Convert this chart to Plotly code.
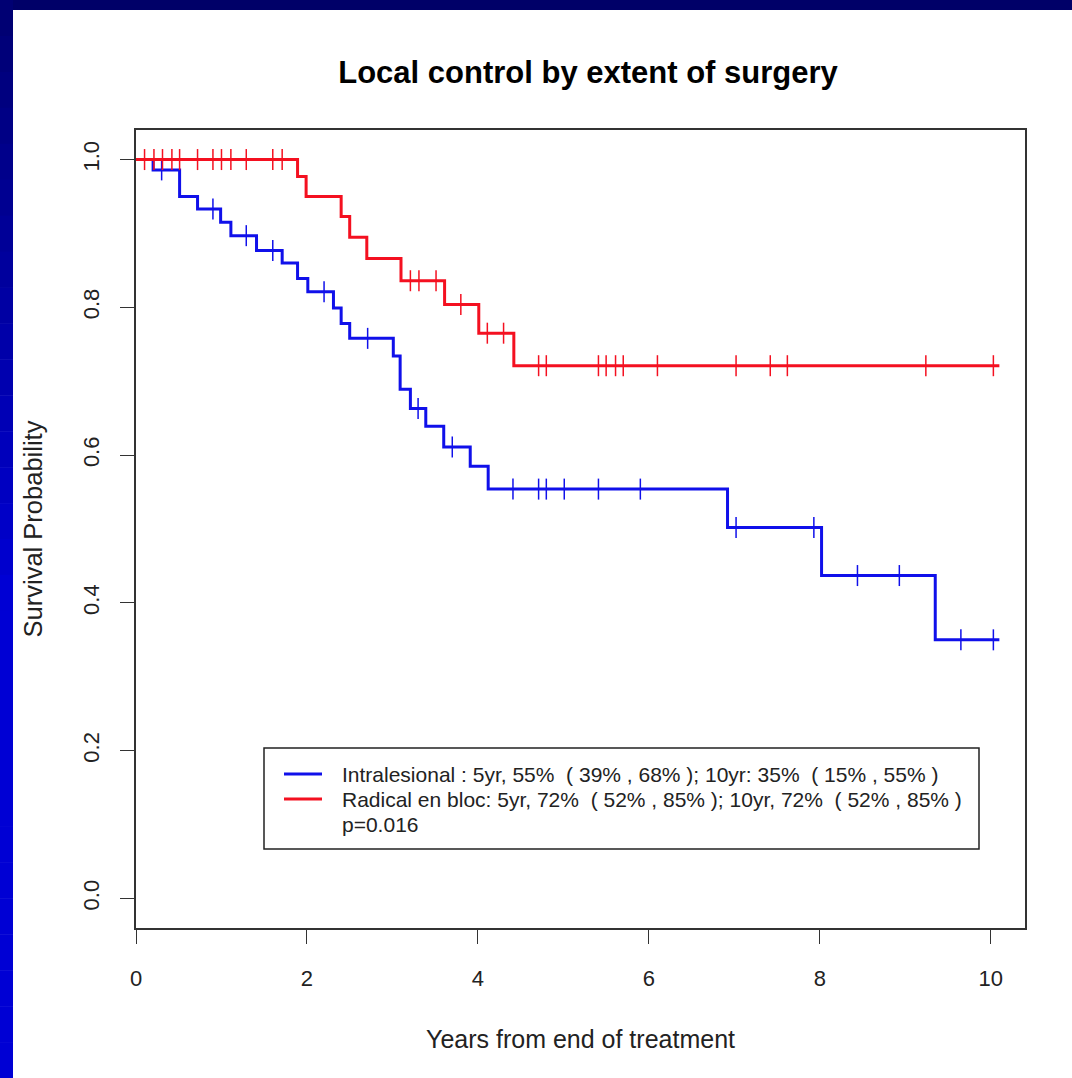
import plotly.graph_objects as go

# ---------------- data ----------------
intra_name = "Intralesional : 5yr, 55%  ( 39% , 68% ); 10yr: 35%  ( 15% , 55% )"
intra_times = [0.20, 0.51, 0.72, 0.99, 1.11, 1.41, 1.71, 1.89, 2.01, 2.31, 2.40, 2.50,
               3.01, 3.09, 3.21, 3.39, 3.60, 3.91, 4.12, 6.92, 8.02, 9.35]
intra_surv = [0.986, 0.950, 0.933, 0.915, 0.897, 0.877, 0.860, 0.839, 0.821, 0.799, 0.778, 0.758,
              0.734, 0.689, 0.663, 0.639, 0.611, 0.585, 0.554, 0.502, 0.437, 0.350]
intra_censor = [0.30, 0.90, 1.29, 1.60, 2.20, 2.71, 3.30, 3.70, 4.41, 4.71, 4.80, 5.01,
                5.41, 5.90, 7.02, 7.93, 8.44, 8.93, 9.65, 10.03]
intra_end = 10.1

radical_name = "Radical en bloc: 5yr, 72%  ( 52% , 85% ); 10yr, 72%  ( 52% , 85% )"
radical_times = [1.89, 1.99, 2.40, 2.50, 2.70, 3.10, 3.61, 4.01, 4.42]
radical_surv = [0.977, 0.950, 0.923, 0.895, 0.866, 0.836, 0.804, 0.765, 0.721]
radical_censor = [0.10, 0.21, 0.31, 0.42, 0.51, 0.72, 0.90, 1.00, 1.11, 1.29, 1.60, 1.71,
                  3.21, 3.31, 3.51, 3.80, 4.11, 4.30, 4.71, 4.80, 5.41, 5.50, 5.61, 5.70,
                  6.10, 7.02, 7.42, 7.62, 9.24, 10.03]
radical_end = 10.1

p_text = "p=0.016"
x_ticks = [0, 2, 4, 6, 8, 10]
y_ticks = [0.0, 0.2, 0.4, 0.6, 0.8, 1.0]
y_ticktext = ["0.0", "0.2", "0.4", "0.6", "0.8", "1.0"]

# ---------------- helpers ----------------
def step_xy(times, surv, end):
    xs = [0.0] + list(times) + [end]
    ys = [1.0] + list(surv) + [surv[-1]]
    return xs, ys

def surv_at(t, times, surv):
    s = 1.0
    for ti, si in zip(times, surv):
        if ti <= t:
            s = si
    return s

W, H = 1072, 1078
ML, MR, MT, MB = 136, 47, 130, 150
PW, PH = W - ML - MR, H - MT - MB

def px(x):
    return (x - ML) / PW

def py(y):
    return (H - MB - y) / PH

FONT = "Liberation Sans, Arial, sans-serif"
BLUE = "#1010ea"
RED = "#f41020"
TXT = "#222222"

fig = go.Figure()

series = [
    (intra_name, intra_times, intra_surv, intra_censor, intra_end, BLUE),
    (radical_name, radical_times, radical_surv, radical_censor, radical_end, RED),
]
for name, times, surv, cens, end, col in series:
    xs, ys = step_xy(times, surv, end)
    fig.add_trace(go.Scatter(x=xs, y=ys, mode="lines", name=name, line_shape="hv",
                             line=dict(color=col, width=3), showlegend=False,
                             hoverinfo="skip"))
    fig.add_trace(go.Scatter(x=cens, y=[surv_at(c, times, surv) for c in cens],
                             mode="markers", showlegend=False, hoverinfo="skip",
                             marker=dict(symbol="line-ns", size=15,
                                         line=dict(color=col, width=1.5))))

# background frame (blue slide border)
shapes = [dict(type="rect", xref="paper", yref="paper", x0=px(0), x1=px(W), y0=py(0), y1=py(10),
               fillcolor="#000068", line=dict(width=0), layer="below")]
nb = 30
for i in range(nb):
    y0 = H * i / nb
    y1 = H * (i + 1) / nb
    f = min(1.0, (i + 0.5) / (nb * 0.55))
    b = int(0x70 + (0xd4 - 0x70) * f)
    shapes.append(dict(type="rect", xref="paper", yref="paper", x0=px(0), x1=px(13),
                       y0=py(y0), y1=py(y1 + 0.5), fillcolor="#0000%02x" % b,
                       line=dict(width=0), layer="below"))

# legend box (drawn like R's legend())
shapes.append(dict(type="rect", xref="paper", yref="paper", x0=px(264), x1=px(979),
                   y0=py(849), y1=py(748), fillcolor="white",
                   line=dict(color=TXT, width=1.5), layer="above"))
annotations = []
legend_rows = [(intra_name, BLUE, 774), (radical_name, RED, 799), (p_text, None, 824)]
for text, col, yc in legend_rows:
    if col is not None:
        shapes.append(dict(type="line", xref="paper", yref="paper", x0=px(284), x1=px(322),
                           y0=py(yc), y1=py(yc), line=dict(color=col, width=3),
                           layer="above"))
    annotations.append(dict(text=text, xref="paper", yref="paper", x=px(340), y=py(yc),
                            xanchor="left", yanchor="middle", showarrow=False,
                            font=dict(family=FONT, size=21, color=TXT)))

fig.update_layout(
    width=W, height=H,
    margin=dict(l=ML, r=MR, t=MT, b=MB),
    paper_bgcolor="white", plot_bgcolor="white",
    font=dict(family=FONT, color=TXT),
    shapes=shapes,
    annotations=annotations,
    title=dict(text="<b>Local control by extent of surgery</b>",
               font=dict(family=FONT, size=31, color="black"),
               x=588 / W, xref="container", xanchor="center",
               y=1 - 72 / H, yref="container", yanchor="middle"),
    xaxis=dict(range=[0, 10.4], tickvals=x_ticks, ticks="outside", ticklen=14,
               tickwidth=1.3, tickcolor="#333333", showline=True, mirror=True,
               linecolor="#333333", linewidth=1.5, showgrid=False, zeroline=False,
               tickfont=dict(size=22, color=TXT), ticklabelstandoff=16,
               title=dict(text="Years from end of treatment",
                          font=dict(size=25, color=TXT), standoff=40)),
    yaxis=dict(range=[-0.04, 1.04], tickvals=y_ticks, ticktext=y_ticktext, tickangle=-90,
               ticks="outside", ticklen=14, tickwidth=1.3, tickcolor="#333333",
               showline=True, mirror=True, linecolor="#333333", linewidth=1.5,
               showgrid=False, zeroline=False,
               tickfont=dict(size=22, color=TXT), ticklabelstandoff=12,
               title=dict(text="Survival Probability",
                          font=dict(size=25.5, color=TXT), standoff=30)),
    showlegend=False,
)

fig.write_html("out.html")
